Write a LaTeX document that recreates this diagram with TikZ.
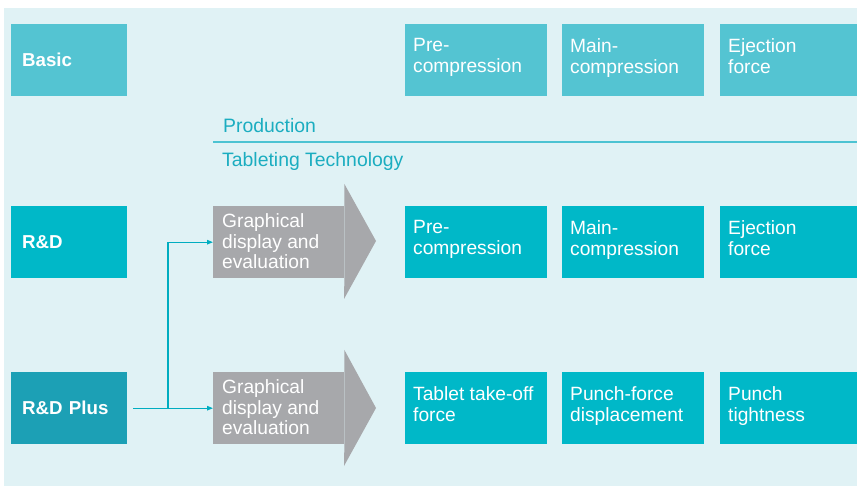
\documentclass[tikz,border=0pt]{standalone}
\usepackage{fontspec}
\setmainfont{Liberation Sans}
\usetikzlibrary{arrows.meta}
\definecolor{bgc}{HTML}{E0F2F5}
\definecolor{basicc}{HTML}{54C4D2}
\definecolor{rdc}{HTML}{00B8C8}
\definecolor{rdpc}{HTML}{1CA0B5}
\definecolor{grayc}{HTML}{A7A8AB}
\definecolor{tealtxt}{HTML}{1BADC0}
\definecolor{linec}{HTML}{00ADC0}
\definecolor{prodline}{HTML}{4CC3D2}
\begin{document}
\begin{tikzpicture}[x=1pt,y=-1pt,
  boxr/.style={anchor=north west, inner sep=0pt, minimum height=72pt, minimum width=#1},
  sidebox/.style={anchor=north west, inner xsep=11pt, inner ysep=0pt, minimum height=72pt, minimum width=116pt, text width=94pt, align=left, text=white, font=\fontsize{18.7}{20.5}\selectfont\bfseries},
  lbl/.style={anchor=north west, inner sep=0pt, align=left, text=white, font=\fontsize{19.2}{20.6}\selectfont},
  hdr/.style={anchor=base west, inner sep=0pt, text=tealtxt, font=\fontsize{19.4}{20.5}\selectfont},
  conn/.style={draw=linec, line width=1.2pt},
  tip/.style={-{Triangle[length=6pt,width=4.5pt]}}
]
\useasboundingbox (0,0) rectangle (857,486);
\fill[bgc] (4,8) rectangle (857,486);

% row 1
\node[sidebox, fill=basicc] (basic) at (11,24) {Basic};
\node[boxr=142pt, fill=basicc] (b11) at (405,24) {};
\node[boxr=142pt, fill=basicc] (b12) at (562,24) {};
\node[boxr=137pt, fill=basicc] (b13) at (720,24) {};
\node[lbl] (t11) at ([shift={(8pt,-14.5pt)}]b11.north west) {Pre-\\compression};
\node[lbl] (t12) at ([shift={(8pt,-14.5pt)}]b12.north west) {Main-\\compression};
\node[lbl] (t13) at ([shift={(8pt,-14.5pt)}]b13.north west) {Ejection\\force};

% production header
\node[hdr] (prod) at (223,132.5) {Production};
\coordinate (pl1) at (213,142);
\coordinate (pl2) at (857,142);
\draw[prodline, line width=1.5pt] (pl1) -- (pl2);
\node[hdr] (tab) at (222,167) {Tableting Technology};

% row 2
\node[sidebox, fill=rdc] (rd) at (11,206) {R\&D};
\node[boxr=131pt, fill=grayc] (g1) at (213,206) {};
\fill[grayc] (g1.north east) -- ++(0,-22) -- (376,241) -- (344,299) -- (g1.south east) -- cycle;
\node[lbl] (g1t) at ([shift={(9pt,-7.5pt)}]g1.north west) {Graphical\\display and\\evaluation};
\node[boxr=142pt, fill=rdc] (b21) at (405,206) {};
\node[boxr=142pt, fill=rdc] (b22) at (562,206) {};
\node[boxr=137pt, fill=rdc] (b23) at (720,206) {};
\node[lbl] (t21) at ([shift={(8pt,-14.5pt)}]b21.north west) {Pre-\\compression};
\node[lbl] (t22) at ([shift={(8pt,-14.5pt)}]b22.north west) {Main-\\compression};
\node[lbl] (t23) at ([shift={(8pt,-14.5pt)}]b23.north west) {Ejection\\force};

% row 3
\node[sidebox, fill=rdpc] (rdp) at (11,372) {R\&D Plus};
\node[boxr=131pt, fill=grayc] (g2) at (213,372) {};
\fill[grayc] (g2.north east) -- ++(0,-22) -- (376,408) -- (344,466) -- (g2.south east) -- cycle;
\node[lbl] (g2t) at ([shift={(9pt,-7.5pt)}]g2.north west) {Graphical\\display and\\evaluation};
\node[boxr=142pt, fill=rdc] (b31) at (405,372) {};
\node[boxr=142pt, fill=rdc] (b32) at (562,372) {};
\node[boxr=137pt, fill=rdc] (b33) at (720,372) {};
\node[lbl] (t31) at ([shift={(8pt,-14.5pt)}]b31.north west) {Tablet take-off\\force};
\node[lbl] (t32) at ([shift={(8pt,-14.5pt)}]b32.north west) {Punch-force\\displacement};
\node[lbl] (t33) at ([shift={(8pt,-14.5pt)}]b33.north west) {Punch\\tightness};

% connectors
\coordinate (cs) at ([xshift=6pt]rdp.east);
\coordinate (br) at (168,408);
\draw[conn, tip] (cs) -- (g2.west);
\draw[conn, tip] (br) |- (g1.west);
\end{tikzpicture}
\end{document}
